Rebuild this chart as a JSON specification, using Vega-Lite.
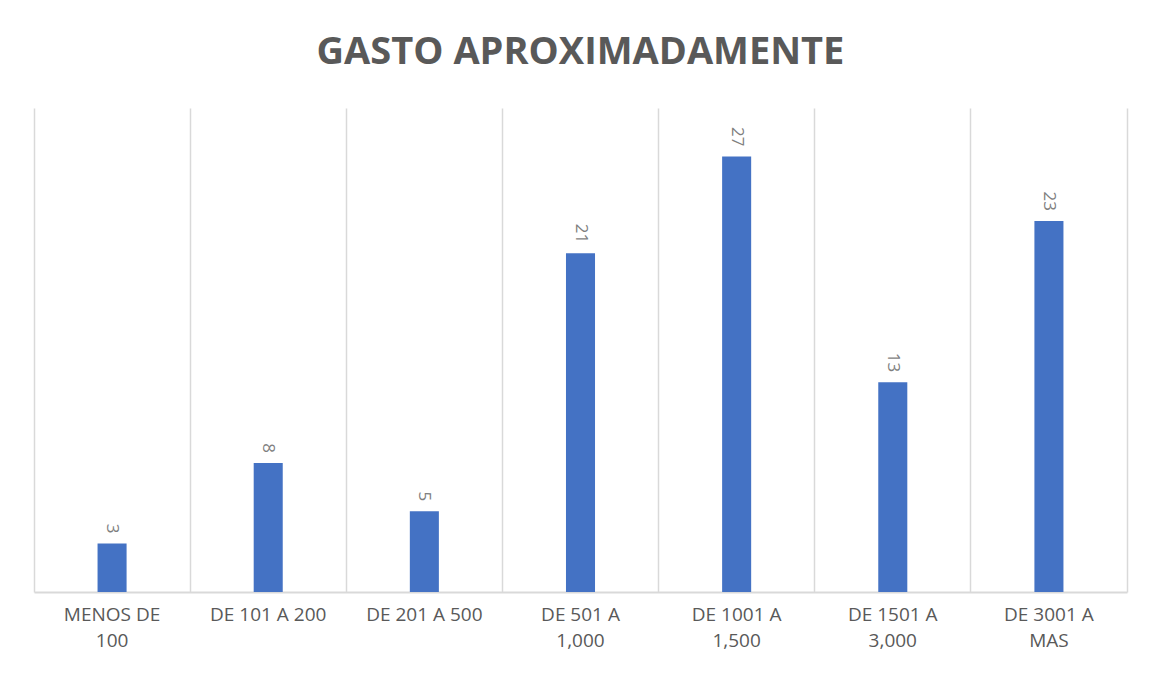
{
  "$schema": "https://vega.github.io/schema/vega-lite/v6.json",
  "autosize": {"type": "none"},
  "width": 1093,
  "height": 484,
  "padding": {"left": 34, "top": 108, "right": 28, "bottom": 82},
  "background": "white",
  "config": {"view": {"stroke": null}, "font": "Open Sans"},
  "title": {
    "text": "GASTO APROXIMADAMENTE",
    "fontSize": 38,
    "font": "Open Sans",
    "fontWeight": "bold",
    "color": "#595959",
    "anchor": "middle",
    "baseline": "alphabetic",
    "offset": 6
  },
  "data": {
    "values": [
      {"cat": "MENOS DE 100", "n": 3},
      {"cat": "DE 101 A 200", "n": 8},
      {"cat": "DE 201 A 500", "n": 5},
      {"cat": "DE 501 A 1,000", "n": 21},
      {"cat": "DE 1001  A 1,500", "n": 27},
      {"cat": "DE 1501 A 3,000", "n": 13},
      {"cat": "DE 3001 A MAS", "n": 23}
    ]
  },
  "encoding": {
    "x": {
      "field": "cat",
      "type": "nominal",
      "sort": null,
      "scale": {"paddingInner": 0, "paddingOuter": 0},
      "axis": {
        "title": null,
        "labelAngle": 0,
        "labelFont": "Open Sans",
        "labelFontSize": 19,
        "labelColor": "#595959",
        "labelPadding": 13,
        "labelLineHeight": 26,
        "labelBaseline": "top",
        "labelExpr": "(datum.label == 'DE 101 A 200' || datum.label == 'DE 201 A 500') ? datum.label : [join(slice(split(datum.label, ' '), 0, -1), ' '), peek(split(datum.label, ' '))]",
        "ticks": false,
        "domainColor": "#d9d9d9",
        "domainWidth": 2,
        "grid": true,
        "gridColor": "#d9d9d9",
        "gridWidth": 1.5,
        "bandPosition": 0
      }
    },
    "y": {
      "field": "n",
      "type": "quantitative",
      "scale": {"domain": [0, 30]},
      "axis": {
        "orient": "right",
        "title": null,
        "labels": false,
        "ticks": false,
        "grid": false,
        "domainColor": "#d9d9d9",
        "domainWidth": 1.5
      }
    }
  },
  "layer": [
    {"mark": {"type": "bar", "color": "#4472C4", "width": {"band": 0.186}}},
    {
      "mark": {
        "type": "text",
        "angle": 90,
        "align": "right",
        "baseline": "middle",
        "dx": -10,
        "fontSize": 17,
        "color": "#7f7f7f",
        "font": "Open Sans"
      },
      "encoding": {"text": {"field": "n", "type": "quantitative"}}
    }
  ]
}
